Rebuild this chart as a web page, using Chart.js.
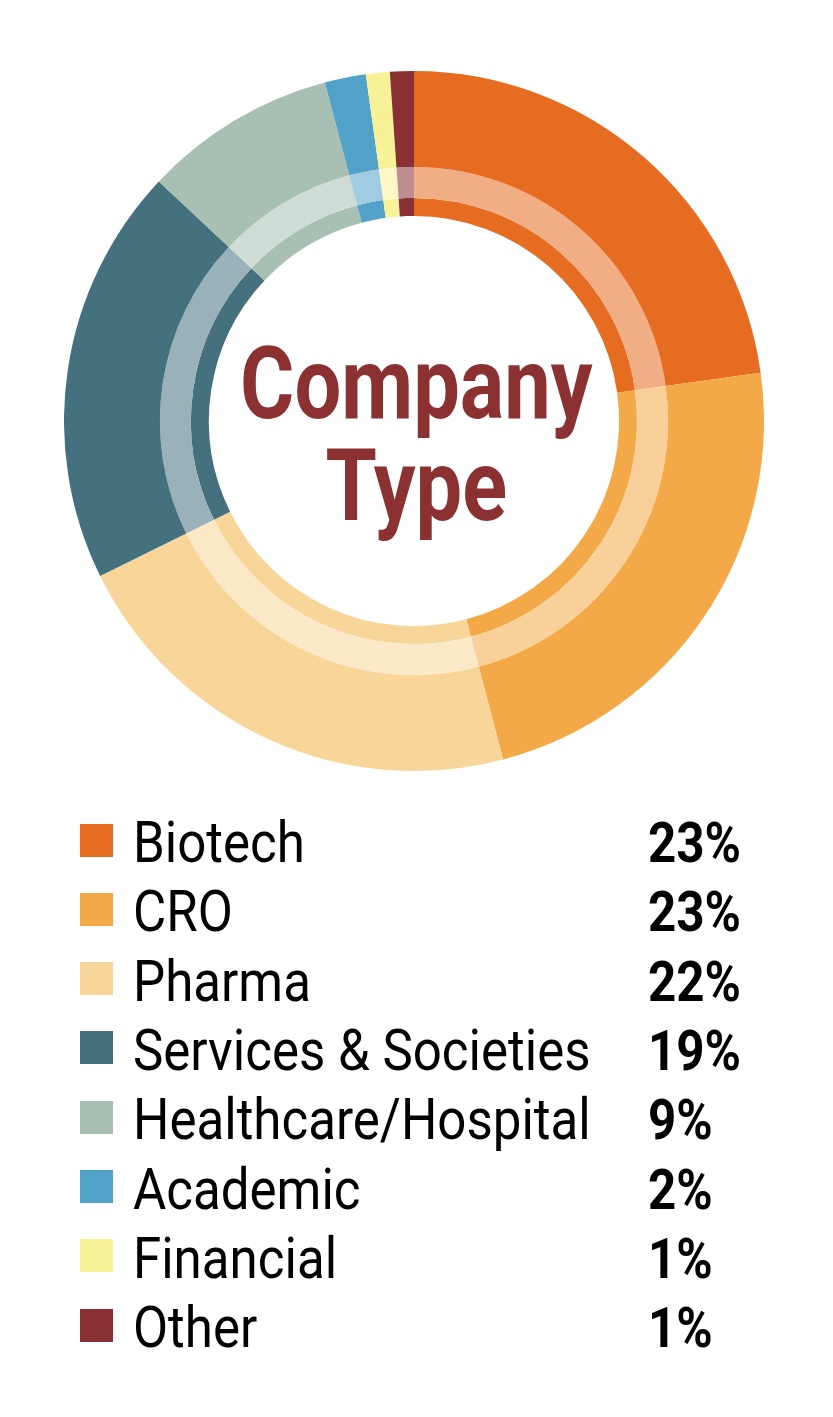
<!DOCTYPE html>
<html>
<head>
<meta charset="utf-8">
<script src="https://cdn.jsdelivr.net/npm/chart.js@4"></script>
<style>
  html, body { margin: 0; padding: 0; background: #fff; }
  #wrap { position: relative; width: 833px; height: 1417px; overflow: hidden; font-family: Roboto, "Noto Sans", sans-serif; }
  #chartBox { position: absolute; left: 64px; top: 71px; width: 700px; height: 700px; }
  .title { position: absolute; left: 0; width: 833px; text-align: center; font-weight: 700; font-size: 100px; line-height: 1; color: #8B3132; }
  .title span { display: inline-block; transform: scaleX(0.83); transform-origin: center; }
  .row { position: absolute; left: 0; width: 833px; height: 58px; }
  .sw { position: absolute; left: 80px; width: 33px; height: 33px; }
  .lab { position: absolute; left: 133px; top: 0; font-size: 58px; line-height: 1; color: #000; white-space: nowrap; transform: scaleX(0.88); transform-origin: left; }
  .pct { position: absolute; left: 648px; font-size: 56px; font-weight: 700; line-height: 1; color: #000; white-space: nowrap; transform: scaleX(0.88); transform-origin: left; }
</style>
</head>
<body>
<div id="wrap">
  <div id="chartBox"><canvas id="donut"></canvas></div>
  <div class="title" style="top:334px"><span>Company</span></div>
  <div class="title" style="top:436px"><span>Type</span></div>
  <div id="legend"></div>
</div>
<script>
const categories = ['Biotech', 'CRO', 'Pharma', 'Services & Societies', 'Healthcare/Hospital', 'Academic', 'Financial', 'Other'];
const shares = [22.8, 23.1, 21.8, 19.3, 8.9, 1.9, 1.1, 1.1];
const shareLabels = ['23%', '23%', '22%', '19%', '9%', '2%', '1%', '1%'];
const colors = ['#E66C21', '#F4A948', '#F8D598', '#45717E', '#A8C0B3', '#52A1C9', '#F7F197', '#893033'];

function tint(hex, a) {
  const n = parseInt(hex.slice(1), 16);
  const ch = [(n >> 16) & 255, (n >> 8) & 255, n & 255].map(v => Math.round(v + (255 - v) * a));
  return 'rgb(' + ch.join(',') + ')';
}

const ctx = document.getElementById('donut').getContext('2d');
new Chart(ctx, {
  type: 'doughnut',
  data: {
    labels: categories,
    datasets: [
      { data: shares, backgroundColor: colors, borderWidth: 0, weight: 96 },
      { data: shares, backgroundColor: colors.map(c => tint(c, 0.45)), borderWidth: 0, weight: 31 },
      { data: shares, backgroundColor: colors, borderWidth: 0, weight: 18 }
    ]
  },
  options: {
    responsive: true,
    maintainAspectRatio: false,
    animation: false,
    cutout: '58.6%',
    plugins: {
      legend: { display: false },
      tooltip: { enabled: false }
    }
  }
});

// legend rows built from the arrays
const legend = document.getElementById('legend');
categories.forEach((name, i) => {
  const base = 862 + 69.3 * i;
  const row = document.createElement('div');
  row.className = 'row';
  row.style.top = (base - 49) + 'px';
  row.innerHTML =
    '<div class="sw" style="background:' + colors[i] + ';top:' + (49 - 22 - 16.5) + 'px"></div>' +
    '<div class="lab">' + name.replace('&', '&amp;') + '</div>' +
    '<div class="pct" style="top:' + (49 - 47) + 'px">' + shareLabels[i] + '</div>';
  legend.appendChild(row);
});
</script>
</body>
</html>
